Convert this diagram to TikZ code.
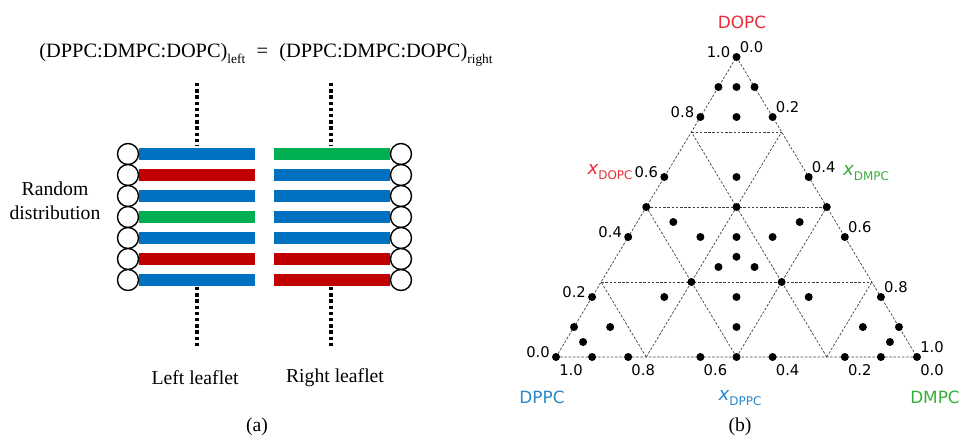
\documentclass[tikz,border=0pt]{standalone}
\usepackage{fontspec}
\setmainfont{Liberation Serif}
\newfontfamily\ternfont{DejaVu Sans}
\usepackage{xcolor}

\definecolor{barblue}{RGB}{0,112,192}
\definecolor{barred}{RGB}{192,0,0}
\definecolor{bargreen}{RGB}{0,176,80}
\definecolor{dopcred}{RGB}{232,45,55}
\definecolor{dmpcgreen}{RGB}{55,175,60}
\definecolor{dppcblue}{RGB}{40,135,205}

\tikzset{
lipid head/.style={draw=black, line width=1pt, fill=white},
leaflet axis/.style={line width=2.5pt, dash pattern=on 2.4pt off 2pt},
tern grid/.style={black!75, line width=0.5pt, dash pattern=on 1.8pt off 1.2pt},
tick/.style={font=\ternfont\fontsize{10.5}{10.5}\selectfont, inner sep=0pt},
corner/.style={font=\ternfont\fontsize{12}{12}\selectfont, inner sep=0pt},
serif text/.style={font=\fontsize{14}{17}\selectfont, inner sep=0pt}
}
\newcommand{\lsub}[1]{\raisebox{-0.3em}{\fontsize{9.5}{10}\selectfont #1}}
\newcommand{\xfrac}[1]{{\ternfont\fontsize{13}{13}\selectfont\itshape x}\raisebox{-0.3em}{\ternfont\fontsize{8.5}{9}\selectfont #1}}

\begin{document}
\begin{tikzpicture}[x=0.025cm, y=-0.025cm]
\useasboundingbox (0,0) rectangle (961,436);

% Coordinates
\coordinate (left_axis_top) at (197,83);
\coordinate (left_axis_mid) at (197,145);
\coordinate (left_axis_low) at (197,287);
\coordinate (left_axis_bottom) at (197,347);
\coordinate (right_axis_top) at (331,83);
\coordinate (right_axis_mid) at (331,145);
\coordinate (right_axis_low) at (331,287);
\coordinate (right_axis_bottom) at (331,347);
\coordinate (dppc) at (556,357);
\coordinate (dmpc) at (917,357);
\coordinate (dopc) at (736.5,57);

% Leaflets
\draw[leaflet axis] (left_axis_top) -- (left_axis_mid);
\draw[leaflet axis] (right_axis_top) -- (right_axis_mid);
\draw[leaflet axis] (left_axis_low) -- (left_axis_bottom);
\draw[leaflet axis] (right_axis_low) -- (right_axis_bottom);

\foreach \y/\lc/\rc in {154/barblue/bargreen, 175/barred/barblue, 196/barblue/barblue,
  217/bargreen/barblue, 238/barblue/barblue, 259/barred/barred, 280/barblue/barred}{
  \fill[\lc] (139,\y-6) rectangle (255,\y+6);
  \fill[\rc] (274,\y-6) rectangle (390,\y+6);
  \draw[lipid head] (128,\y) circle[radius=10.5];
  \draw[lipid head] (401,\y) circle[radius=10.5];
}

\node[serif text, font=\fontsize{14.5}{17}\selectfont] (ratio) at (266,55)
  {(DPPC:DMPC:DOPC)\lsub{left}\hspace{8pt}=\hspace{8pt}(DPPC:DMPC:DOPC)\lsub{right}};
\node[serif text, align=center] (random) at (55,201) {Random\\distribution};
\node[serif text] (left_leaflet) at (195,378) {Left leaflet};
\node[serif text] (right_leaflet) at (335,378) {Right leaflet};
\node[serif text] (panel_a) at (257,427) {(a)};

% Ternary grid
\draw[tern grid] (dppc) -- (dmpc) -- (dopc) -- cycle;
\foreach \t/\s in {0.25/0.75, 0.5/0.5, 0.75/0.25}{
  \draw[tern grid] (barycentric cs:dppc=\s,dopc=\t) -- (barycentric cs:dmpc=\s,dopc=\t);
  \draw[tern grid] (barycentric cs:dppc=\s,dmpc=\t) -- (barycentric cs:dmpc=\t,dopc=\s);
  \draw[tern grid] (barycentric cs:dppc=\t,dmpc=\s) -- (barycentric cs:dppc=\t,dopc=\s);
}

% Compositions
\foreach \a/\b/\c in {1/0/0, 0.9/0.1/0, 0.8/0.2/0, 0.6/0.4/0, 0.5/0.5/0, 0.4/0.6/0,
  0.2/0.8/0, 0.1/0.9/0, 0/1/0, 0.9/0.05/0.05, 0.05/0.9/0.05,
  0.9/0/0.1, 0.8/0.1/0.1, 0.45/0.45/0.1, 0.1/0.8/0.1, 0/0.9/0.1,
  0.8/0/0.2, 0.6/0.2/0.2, 0.4/0.4/0.2, 0.2/0.6/0.2, 0/0.8/0.2,
  0.5/0.25/0.25, 0.25/0.5/0.25, 0.4/0.3/0.3, 0.3/0.4/0.3, 0.333/0.333/0.334,
  0.6/0/0.4, 0.4/0.2/0.4, 0.3/0.3/0.4, 0.2/0.4/0.4, 0/0.6/0.4,
  0.45/0.1/0.45, 0.1/0.45/0.45, 0.5/0/0.5, 0.25/0.25/0.5, 0/0.5/0.5,
  0.4/0/0.6, 0.2/0.2/0.6, 0/0.4/0.6, 0.2/0/0.8, 0.1/0.1/0.8, 0/0.2/0.8,
  0.1/0/0.9, 0.05/0.05/0.9, 0/0.1/0.9, 0/0/1}{
  \fill (barycentric cs:dppc=\a,dmpc=\b,dopc=\c) circle[radius=4];
}

% Ticks
\foreach \v/\w [count=\i] in {0.0/1.0, 0.2/0.8, 0.4/0.6, 0.6/0.4, 0.8/0.2, 1.0/0.0}{
  \path (barycentric cs:dppc=\w,dopc=\v) ++(-18,-5) node[tick] (dopc_tick\i) {\v};
  \path (barycentric cs:dmpc=\v,dopc=\w) ++(15,-10) node[tick] (dmpc_tick\i) {\v};
  \path (barycentric cs:dppc=\v,dmpc=\w) ++(15,13) node[tick] (dppc_tick\i) {\v};
}

% Labels
\node[corner, text=dopcred] (dopc_name) at (742,22) {DOPC};
\node[corner, text=dppcblue] (dppc_name) at (542,397) {DPPC};
\node[corner, text=dmpcgreen] (dmpc_name) at (935,397) {DMPC};
\node[inner sep=0pt, text=dopcred] (x_dopc) at (610,172) {\xfrac{DOPC}};
\node[inner sep=0pt, text=dmpcgreen] (x_dmpc) at (866,173) {\xfrac{DMPC}};
\node[inner sep=0pt, text=dppcblue] (x_dppc) at (740,398) {\xfrac{DPPC}};
\node[serif text] (panel_b) at (740,427) {(b)};

\end{tikzpicture}
\end{document}
